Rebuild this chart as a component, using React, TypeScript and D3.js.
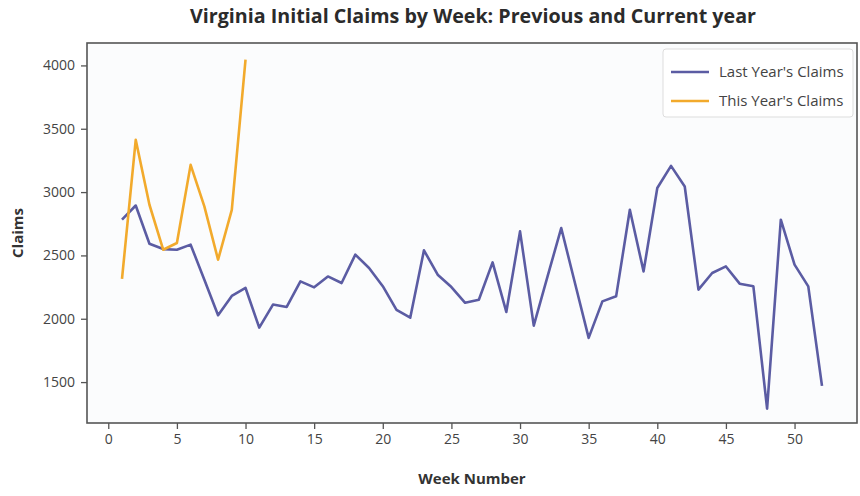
import React, { useEffect, useRef } from "react";
import * as d3 from "d3";

// weekly initial claims
const lastYearClaims = [
  2782, 2894, 2592, 2550, 2545, 2585, 2308, 2028, 2180, 2243,
  1930, 2112, 2093, 2295, 2248, 2334, 2282, 2506, 2401, 2257,
  2070, 2008, 2540, 2348, 2250, 2126, 2150, 2445, 2054, 2690,
  1946, 2332, 2716, 2282, 1849, 2137, 2177, 2860, 2374, 3032,
  3207, 3044, 2230, 2361, 2413, 2277, 2256, 1290, 2782, 2427,
  2256, 1470,
];
const thisYearClaims = [2315, 3413, 2900, 2545, 2598, 3215, 2887, 2466, 2860, 4045];
const lastWeeks = lastYearClaims.map((_, i) => i + 1);
const thisWeeks = thisYearClaims.map((_, i) => i + 1);
const xTicks = [0, 5, 10, 15, 20, 25, 30, 35, 40, 45, 50];
const yTicks = [1500, 2000, 2500, 3000, 3500, 4000];
const seriesNames = ["Last Year's Claims", "This Year's Claims"];
const seriesColors = ["#5b5ca3", "#f2aa2c"];

const W = 860;
const H = 496;
const FONT = "'Open Sans', sans-serif";

const App = () => {
  const ref = useRef<SVGSVGElement>(null);

  useEffect(() => {
    const svg = d3.select(ref.current);
    svg.selectAll("*").remove();

    const left = 87, right = 857, top = 43, bottom = 423;

    const x = d3.scaleLinear().domain([-1.55, 54.55]).range([left, right]);
    const y = d3.scaleLinear().domain([1177, 4177]).range([bottom, top]);

    svg.append("rect")
      .attr("x", 0).attr("y", 0).attr("width", W).attr("height", H)
      .attr("fill", "#ffffff");
    svg.append("rect")
      .attr("x", left).attr("y", top)
      .attr("width", right - left).attr("height", bottom - top)
      .attr("fill", "#fbfcfd");

    // title
    svg.append("text")
      .attr("x", 473).attr("y", 23)
      .attr("text-anchor", "middle")
      .attr("font-family", FONT)
      .attr("font-size", 19.5).attr("font-weight", "bold")
      .attr("fill", "#2b2b2b")
      .attr("textLength", 566).attr("lengthAdjust", "spacingAndGlyphs")
      .text("Virginia Initial Claims by Week: Previous and Current year");

    // axes
    const xAxis = svg.append("g")
      .attr("transform", `translate(0,${bottom})`)
      .call(d3.axisBottom(x).tickValues(xTicks).tickSize(6).tickPadding(5).tickFormat(d3.format("d")));
    const yAxis = svg.append("g")
      .attr("transform", `translate(${left},0)`)
      .call(d3.axisLeft(y).tickValues(yTicks).tickSize(6).tickPadding(6).tickFormat(d3.format("d")));
    [xAxis, yAxis].forEach((g) => {
      g.select(".domain").remove();
      g.selectAll("line").attr("stroke", "#555").attr("stroke-width", 1.3);
      g.selectAll("text")
        .attr("font-family", FONT).attr("font-size", 14).attr("fill", "#444");
    });

    // spines
    svg.append("rect")
      .attr("x", left).attr("y", top)
      .attr("width", right - left).attr("height", bottom - top)
      .attr("fill", "none").attr("stroke", "#555").attr("stroke-width", 1.6);

    svg.append("text")
      .attr("x", (left + right) / 2).attr("y", 484)
      .attr("text-anchor", "middle")
      .attr("font-family", FONT).attr("font-size", 15).attr("font-weight", "bold")
      .attr("fill", "#333")
      .text("Week Number");
    svg.append("text")
      .attr("transform", `translate(23,${(top + bottom) / 2}) rotate(-90)`)
      .attr("text-anchor", "middle")
      .attr("font-family", FONT).attr("font-size", 15).attr("font-weight", "bold")
      .attr("fill", "#333")
      .text("Claims");

    // lines
    const line = d3.line<[number, number]>()
      .x((d) => x(d[0]))
      .y((d) => y(d[1]));
    const series: [number, number][][] = [
      lastWeeks.map((w, i) => [w, lastYearClaims[i]]),
      thisWeeks.map((w, i) => [w, thisYearClaims[i]]),
    ];
    series.forEach((s, i) => {
      svg.append("path")
        .datum(s)
        .attr("d", line)
        .attr("fill", "none")
        .attr("stroke", seriesColors[i])
        .attr("stroke-width", 2.6)
        .attr("stroke-linejoin", "round");
    });

    // legend
    const lg = svg.append("g").attr("transform", "translate(663,49)");
    lg.append("rect")
      .attr("width", 190).attr("height", 68).attr("rx", 3)
      .attr("fill", "#ffffff").attr("stroke", "#ddd");
    seriesNames.forEach((name, i) => {
      const yy = 23 + i * 29;
      lg.append("line")
        .attr("x1", 8).attr("x2", 46).attr("y1", yy).attr("y2", yy)
        .attr("stroke", seriesColors[i]).attr("stroke-width", 2.6);
      lg.append("text")
        .attr("x", 56).attr("y", yy + 5)
        .attr("font-family", FONT).attr("font-size", 15)
        .attr("fill", "#444")
        .text(name);
    });
  }, []);

  return (
    <svg ref={ref} width={W} height={H} style={{ position: "absolute", left: 0, top: 0 }} />
  );
};

export default App;
